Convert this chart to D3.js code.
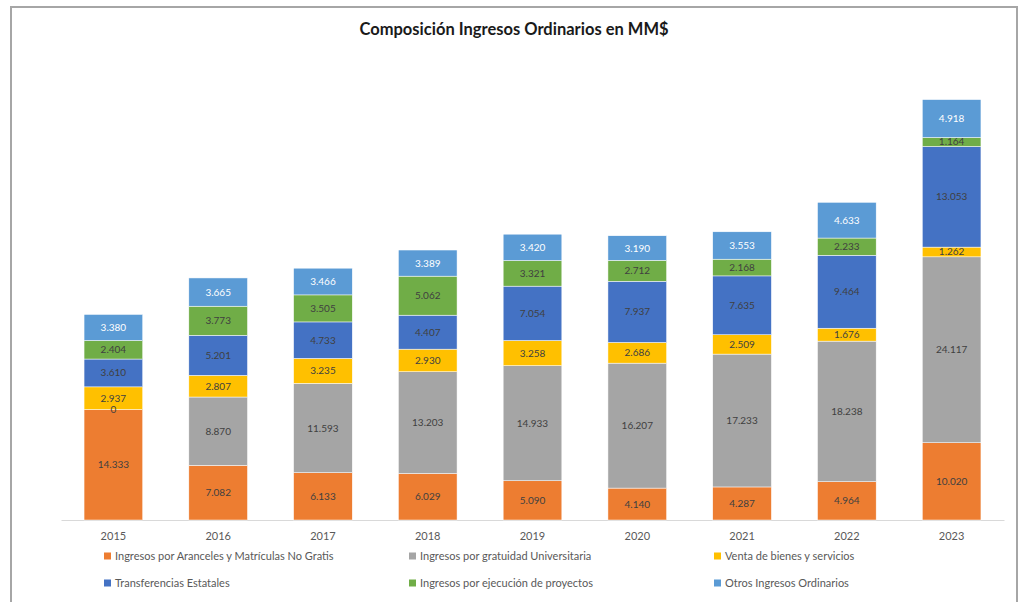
<!DOCTYPE html>
<html>
<head>
<meta charset="utf-8">
<script src="https://cdn.jsdelivr.net/npm/d3@7"></script>
<style>
  body { margin: 0; background: #fff; }
  text { font-family: Lato, "Open Sans", sans-serif; }
</style>
</head>
<body>
<div id="chart"></div>
<script>
// data (MM$)
const years = ["2015", "2016", "2017", "2018", "2019", "2020", "2021", "2022", "2023"];
const aranceles = [14333, 7082, 6133, 6029, 5090, 4140, 4287, 4964, 10020];
const gratuidad = [0, 8870, 11593, 13203, 14933, 16207, 17233, 18238, 24117];
const ventas = [2937, 2807, 3235, 2930, 3258, 2686, 2509, 1676, 1262];
const transferencias = [3610, 5201, 4733, 4407, 7054, 7937, 7635, 9464, 13053];
const proyectos = [2404, 3773, 3505, 5062, 3321, 2712, 2168, 2233, 1164];
const otros = [3380, 3665, 3466, 3389, 3420, 3190, 3553, 4633, 4918];

const seriesNames = [
  "Ingresos por Aranceles y Matrículas No Gratis",
  "Ingresos por gratuidad Universitaria",
  "Venta de bienes y servicios",
  "Transferencias Estatales",
  "Ingresos por ejecución de proyectos",
  "Otros Ingresos Ordinarios"
];
const seriesValues = [aranceles, gratuidad, ventas, transferencias, proyectos, otros];
const colors = ["#ED7D31", "#A5A5A5", "#FFC000", "#4472C4", "#70AD47", "#5B9BD5"];
const labelColors = ["#404040", "#404040", "#404040", "#404040", "#404040", "#ffffff"];

const width = 1018, height = 602;
const marginLeft = 61, marginRight = 14, baseline = 520, plotTop = 96;

const svg = d3.select("#chart").append("svg")
  .attr("width", width)
  .attr("height", height);

// chart frame
svg.append("rect")
  .attr("x", 11).attr("y", 7)
  .attr("width", 1006).attr("height", 610)
  .attr("fill", "#fff")
  .attr("stroke", "#a6a6a6")
  .attr("stroke-width", 2);

svg.append("text")
  .attr("x", 514).attr("y", 35)
  .attr("text-anchor", "middle")
  .attr("font-size", 16.5)
  .attr("font-weight", "bold")
  .attr("fill", "#1a1a1a")
  .text("Composición Ingresos Ordinarios en MM$");

const rows = years.map((yr, i) => {
  const r = { year: yr };
  seriesNames.forEach((s, k) => r[s] = seriesValues[k][i]);
  return r;
});
const stack = d3.stack().keys(seriesNames)(rows);

const x = d3.scaleBand()
  .domain(years)
  .range([marginLeft, width - marginRight])
  .paddingInner(0.44)
  .paddingOuter(0.22);

const y = d3.scaleLinear()
  .domain([0, 55000])
  .range([baseline, plotTop]);

const fmt = d3.formatLocale({ decimal: ",", thousands: ".", grouping: [3], currency: ["$", ""] }).format(",d");

// axis
svg.append("g")
  .attr("transform", `translate(0,${baseline})`)
  .call(d3.axisBottom(x).tickSize(0).tickPadding(12))
  .call(g => g.select(".domain").attr("stroke", "#d9d9d9").attr("stroke-width", 1))
  .call(g => g.selectAll(".tick text")
    .attr("font-size", 11)
    .attr("fill", "#595959")
    .attr("font-family", "Lato, 'Open Sans', sans-serif"));

// bars
const layer = svg.append("g").selectAll("g")
  .data(stack)
  .join("g")
  .attr("fill", (d, k) => colors[k]);

layer.selectAll("rect")
  .data(d => d)
  .join("rect")
  .attr("x", d => x(d.data.year))
  .attr("width", x.bandwidth())
  .attr("y", d => y(d[1]))
  .attr("height", d => y(d[0]) - y(d[1]))
  .attr("stroke", "#ffffff")
  .attr("stroke-width", 0.5);

// value labels
const labels = svg.append("g").selectAll("g")
  .data(stack)
  .join("g")
  .attr("fill", (d, k) => labelColors[k]);

labels.selectAll("text")
  .data(d => d)
  .join("text")
  .attr("x", d => x(d.data.year) + x.bandwidth() / 2)
  .attr("y", d => (y(d[0]) + y(d[1])) / 2)
  .attr("dy", "0.35em")
  .attr("text-anchor", "middle")
  .attr("font-size", 10)
  .text(d => fmt(d[1] - d[0]));

// legend
const legendX = [104, 409, 714];
const legendY = [556, 583];
const legend = svg.append("g").selectAll("g")
  .data(seriesNames)
  .join("g")
  .attr("transform", (d, k) => `translate(${legendX[k % 3]},${legendY[Math.floor(k / 3)]})`);

legend.append("rect")
  .attr("x", 0).attr("y", -3.5)
  .attr("width", 7).attr("height", 7)
  .attr("fill", (d, k) => colors[k]);

legend.append("text")
  .attr("x", 11)
  .attr("dy", "0.35em")
  .attr("font-size", 11)
  .attr("fill", "#595959")
  .text(d => d);
</script>
</body>
</html>
